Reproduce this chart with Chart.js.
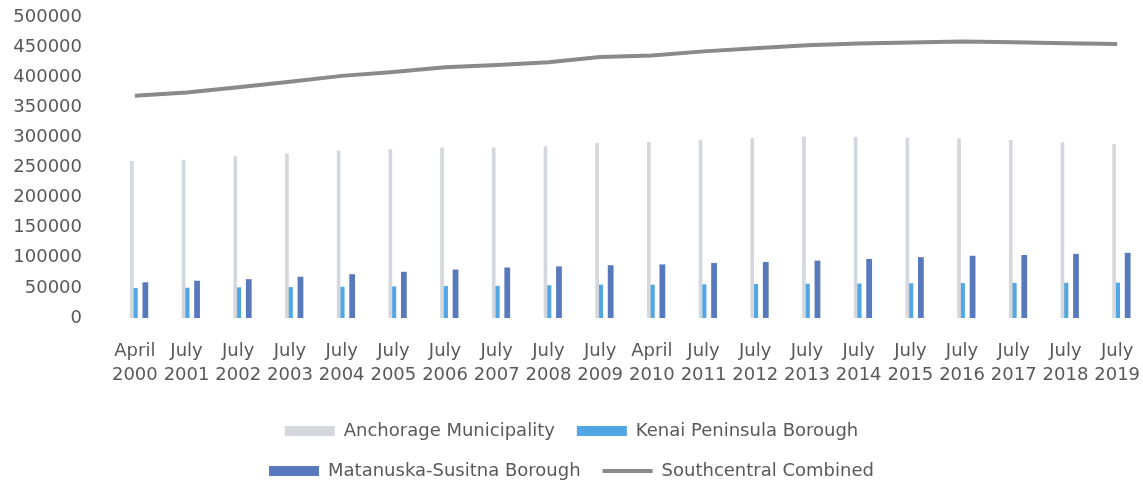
<!DOCTYPE html>
<html>
<head>
<meta charset="utf-8">
<script src="https://cdn.jsdelivr.net/npm/chart.js"></script>
<style>
  html, body { margin: 0; padding: 0; background: #fff; }
  #wrap { width: 1143px; height: 487px; position: relative; }
</style>
</head>
<body>
<div id="wrap"><canvas id="myChart"></canvas></div>
<script>
const months = ["April", "July", "July", "July", "July", "July", "July", "July", "July", "July",
    "April", "July", "July", "July", "July", "July", "July", "July", "July", "July"];
const years = ["2000", "2001", "2002", "2003", "2004", "2005", "2006", "2007", "2008", "2009",
    "2010", "2011", "2012", "2013", "2014", "2015", "2016", "2017", "2018", "2019"];

const anchorage = [260300, 262500, 268000, 272700, 277500, 279600, 282900, 282800, 284900, 290300,
    291800, 295600, 298600, 300900, 300500, 298900, 297800, 295100, 291500, 288000];
const kenai = [49700, 50300, 50900, 51300, 51900, 52400, 53000, 53500, 54300, 55400,
    55400, 56000, 56400, 57000, 57300, 57700, 58000, 58300, 58500, 58700];
const matsu = [59300, 61900, 64500, 68500, 72800, 76800, 80500, 83900, 85700, 87700,
    89000, 91300, 93000, 95300, 98100, 101100, 103400, 104700, 106500, 108300];
const combined = [369300, 374700, 383400, 392500, 402200, 408800, 416400, 420200, 424900, 433400,
    436200, 442900, 448000, 453200, 455900, 457700, 459200, 458100, 456500, 455000];

const textColor = "#595959";
const fontFamily = "'DejaVu Sans', sans-serif";
const LEGEND_W = 820;

// keep the legend to two items per row, centred
const legendRows = {
    id: "legendRows",
    beforeLayout(chart) {
        const lg = chart.legend;
        if (lg && !lg._rowsPatched) {
            const upd = lg.update.bind(lg);
            lg.update = (w, h, m) => upd(Math.min(w, LEGEND_W), h, m);
            lg._rowsPatched = true;
        }
    },
    afterLayout(chart) {
        const lg = chart.legend;
        const cx = chart.width / 2;
        lg.left = cx - LEGEND_W / 2;
        lg.right = cx + LEGEND_W / 2;
        lg.width = LEGEND_W;
    },
};

const ctx = document.getElementById("myChart");

new Chart(ctx, {
    type: "bar",
    data: {
        labels: months.map((m, i) => [m, years[i]]),
        datasets: [
            {
                type: "line",
                label: "Southcentral Combined",
                data: combined,
                borderColor: "#8a8a8a",
                backgroundColor: "#8a8a8a",
                borderWidth: 4,
                pointRadius: 0,
                pointBorderWidth: 4,
                pointStyle: "line",
                tension: 0,
                order: 0,
            },
            {
                label: "Anchorage Municipality",
                data: anchorage,
                backgroundColor: "#d4d7db",
                barThickness: 3,
                pointStyle: "rect",
                order: 1,
            },
            {
                label: "Kenai Peninsula Borough",
                data: kenai,
                backgroundColor: "#52a6e4",
                pointStyle: "rect",
                order: 1,
            },
            {
                label: "Matanuska-Susitna Borough",
                data: matsu,
                backgroundColor: "#5879bc",
                pointStyle: "rect",
                order: 1,
            },
        ],
    },
    options: {
        responsive: true,
        maintainAspectRatio: false,
        animation: false,
        categoryPercentage: 0.61,
        barPercentage: 0.55,
        layout: {
            padding: { top: 17, right: 0, bottom: -3, left: 0 },
        },
        scales: {
            x: {
                grid: { display: false, drawTicks: false },
                border: { display: false },
                ticks: {
                    color: textColor,
                    font: { family: fontFamily, size: 18, lineHeight: 1.3 },
                    maxRotation: 0,
                    autoSkip: false,
                    padding: 22,
                },
                afterFit: (scale) => {
                    scale.height = 82;
                    scale.paddingLeft = 0;
                    scale.paddingRight = 0;
                },
            },
            y: {
                min: 0,
                max: 500000,
                grid: { display: false, drawTicks: false },
                border: { display: false },
                ticks: {
                    stepSize: 50000,
                    color: textColor,
                    font: { family: fontFamily, size: 18 },
                    padding: 27,
                    callback: (v) => String(v),
                },
                afterFit: (scale) => {
                    scale.width = 109;
                    scale.paddingTop = 0;
                    scale.paddingBottom = 0;
                },
            },
        },
        plugins: {
            legend: {
                position: "bottom",
                labels: {
                    color: textColor,
                    font: { family: fontFamily, size: 18 },
                    usePointStyle: true,
                    pointStyleWidth: 50,
                    boxHeight: 10,
                    padding: 22,
                    sort: (a, b) => {
                        const order = [1, 2, 3, 0];
                        return order.indexOf(a.datasetIndex) - order.indexOf(b.datasetIndex);
                    },
                },
            },
            tooltip: { enabled: false },
        },
    },
    plugins: [legendRows],
});
</script>
</body>
</html>
